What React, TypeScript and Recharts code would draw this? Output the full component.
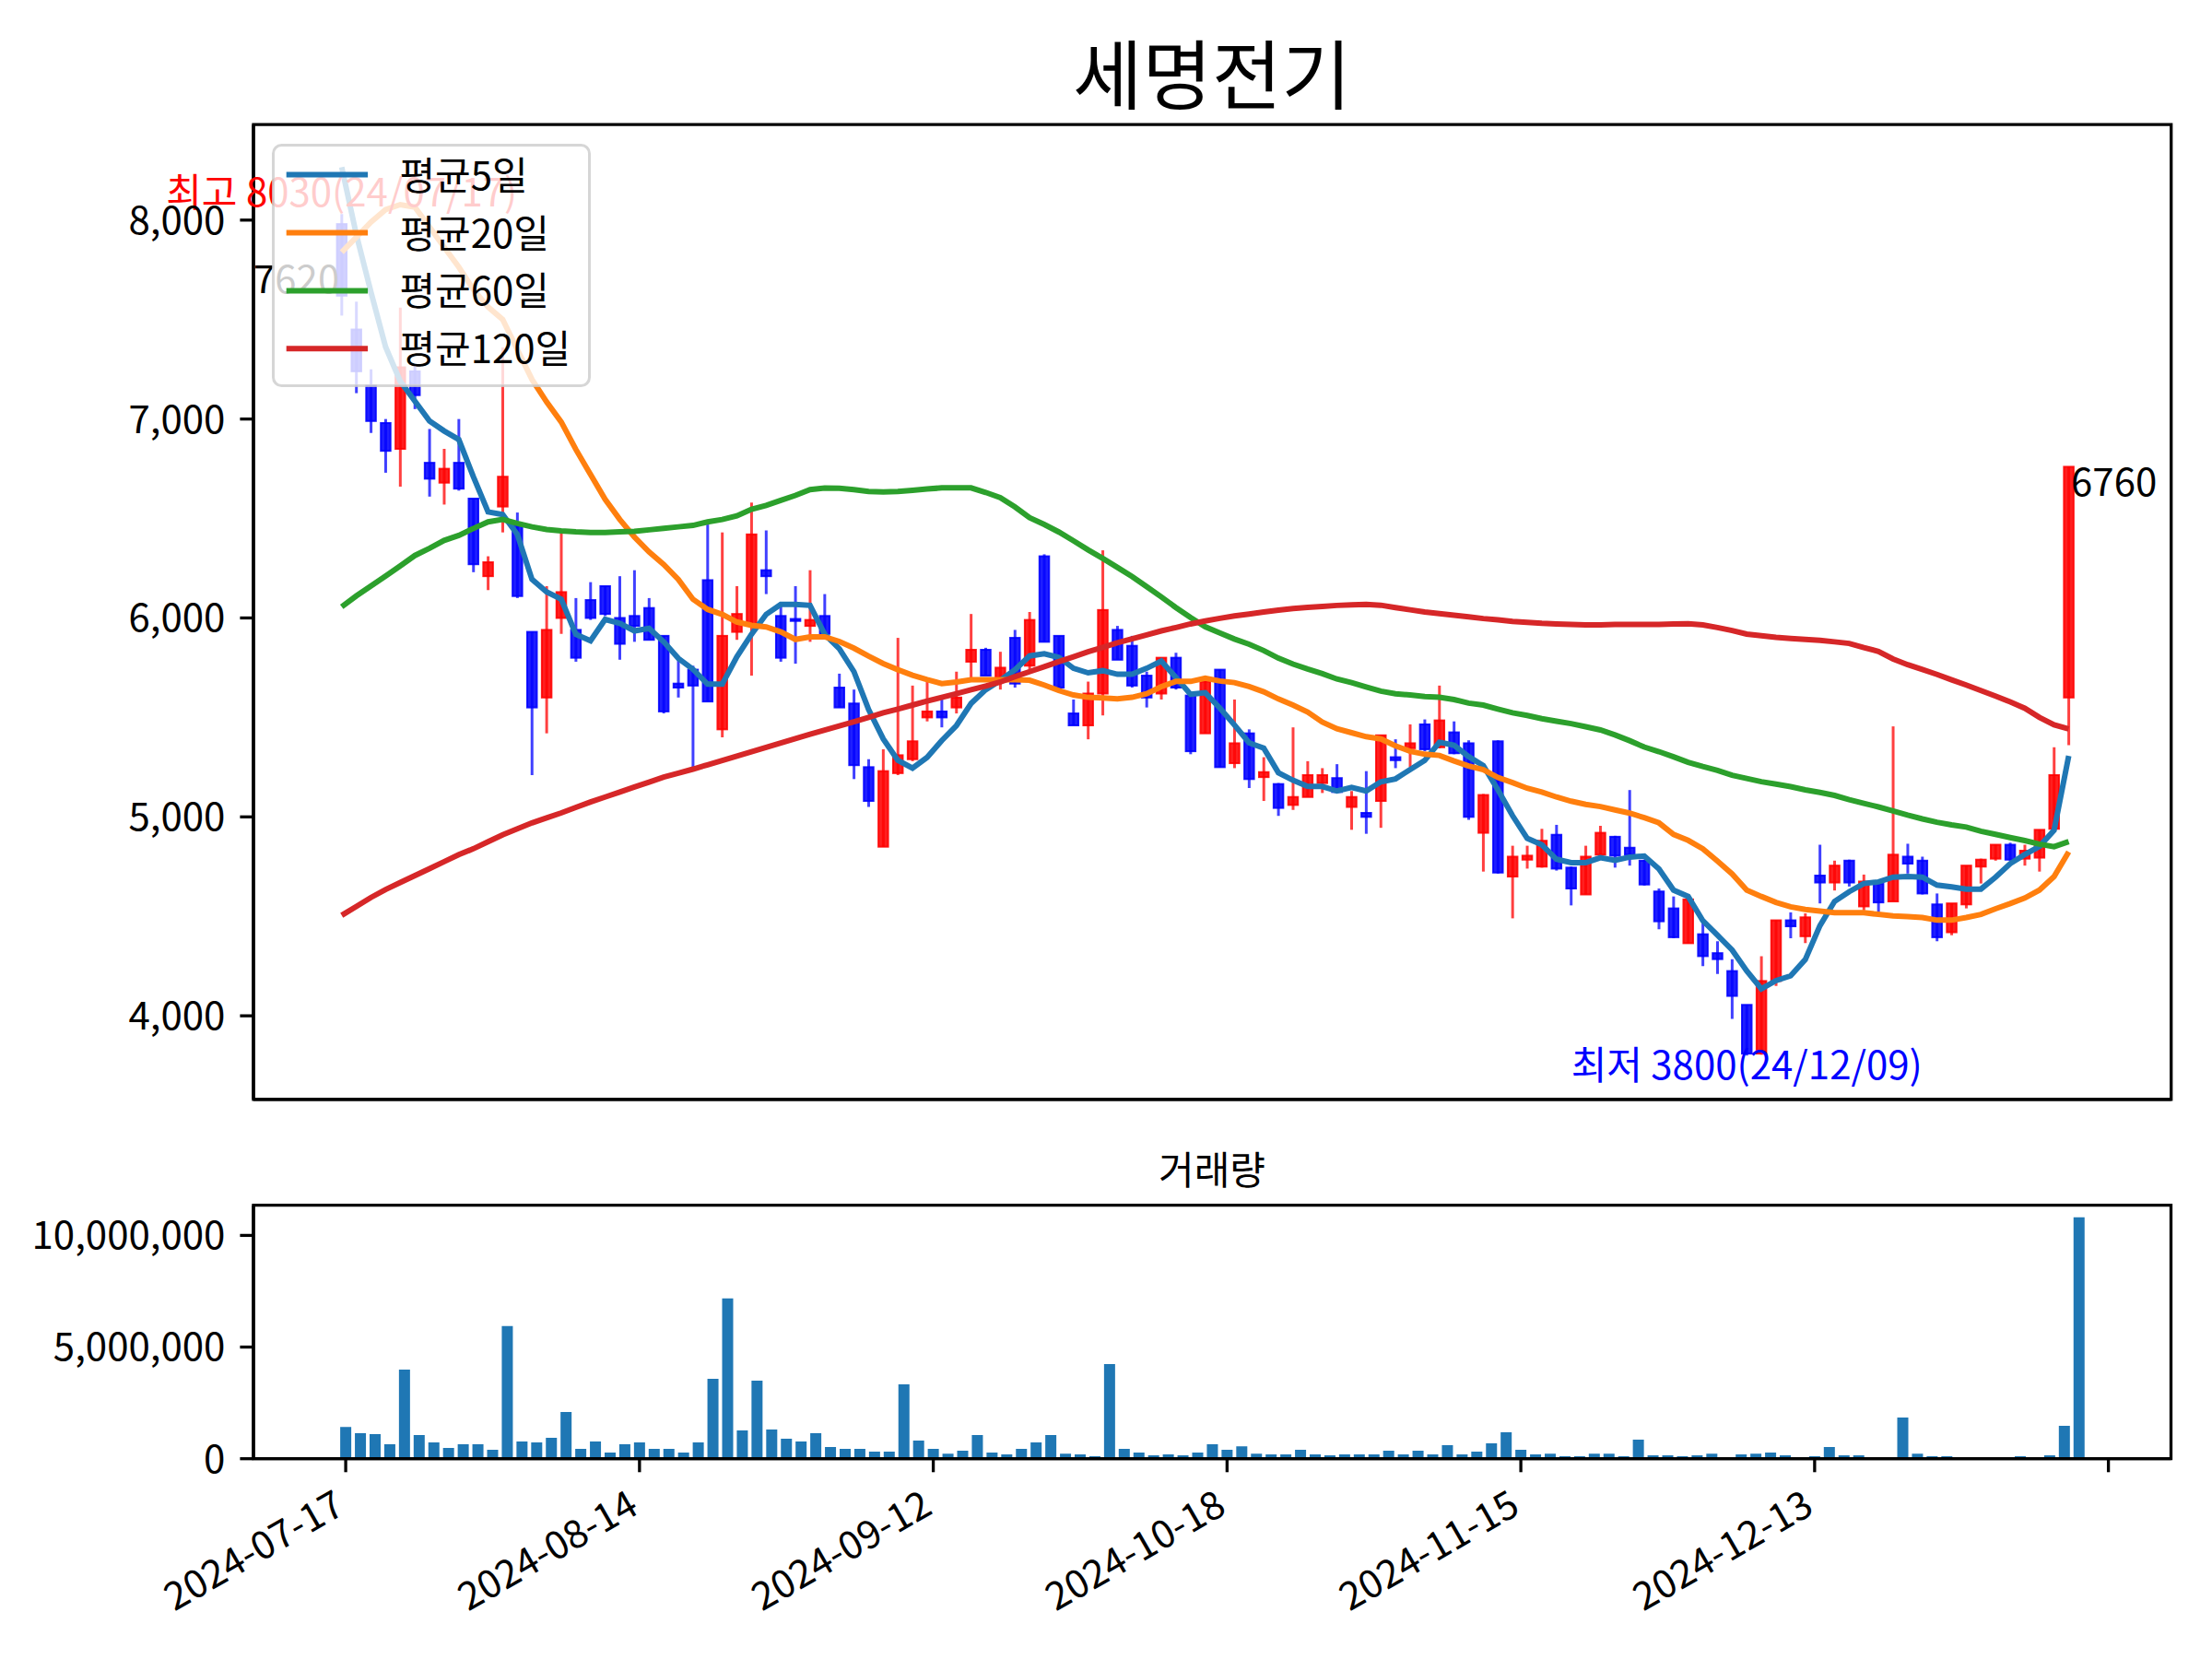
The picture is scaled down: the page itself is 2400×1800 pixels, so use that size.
import { Bar, BarChart, ComposedChart, Legend, Line, ReferenceArea, ReferenceDot, XAxis, YAxis } from "recharts";

const FONT = '"Noto Sans CJK KR", "Noto Sans", sans-serif';

// trading days shown on the chart
const dates = [
  "2024-07-17", "2024-07-18", "2024-07-19", "2024-07-22", "2024-07-23", "2024-07-24", "2024-07-25", "2024-07-26", "2024-07-29", "2024-07-30", "2024-07-31",
  "2024-08-01", "2024-08-02", "2024-08-05", "2024-08-06", "2024-08-07", "2024-08-08", "2024-08-09", "2024-08-12", "2024-08-13", "2024-08-14", "2024-08-16",
  "2024-08-19", "2024-08-20", "2024-08-21", "2024-08-22", "2024-08-23", "2024-08-26", "2024-08-27", "2024-08-28", "2024-08-29", "2024-08-30",
  "2024-09-02", "2024-09-03", "2024-09-04", "2024-09-05", "2024-09-06", "2024-09-09", "2024-09-10", "2024-09-11", "2024-09-12", "2024-09-13",
  "2024-09-19", "2024-09-20", "2024-09-23", "2024-09-24", "2024-09-25", "2024-09-26", "2024-09-27", "2024-09-30",
  "2024-10-02", "2024-10-04", "2024-10-07", "2024-10-08", "2024-10-10", "2024-10-11", "2024-10-14", "2024-10-15", "2024-10-16", "2024-10-17",
  "2024-10-18", "2024-10-21", "2024-10-22", "2024-10-23", "2024-10-24", "2024-10-25", "2024-10-28", "2024-10-29", "2024-10-30", "2024-10-31",
  "2024-11-01", "2024-11-04", "2024-11-05", "2024-11-06", "2024-11-07", "2024-11-08", "2024-11-11", "2024-11-12", "2024-11-13", "2024-11-14",
  "2024-11-15", "2024-11-18", "2024-11-19", "2024-11-20", "2024-11-21", "2024-11-22", "2024-11-25", "2024-11-26", "2024-11-27", "2024-11-28", "2024-11-29",
  "2024-12-02", "2024-12-03", "2024-12-04", "2024-12-05", "2024-12-06", "2024-12-09", "2024-12-10", "2024-12-11", "2024-12-12", "2024-12-13",
  "2024-12-16", "2024-12-17", "2024-12-18", "2024-12-19", "2024-12-20", "2024-12-23", "2024-12-24", "2024-12-26", "2024-12-27", "2024-12-30",
  "2025-01-02", "2025-01-03", "2025-01-06", "2025-01-07", "2025-01-08", "2025-01-09", "2025-01-10", "2025-01-13",
];

const open = [
  7980, 7450, 7170, 6980, 6850, 7240, 6780, 6680, 6780, 6600,
  6210, 6560, 6470, 5930, 5600, 6000, 5940, 6090, 6160, 6000,
  6010, 6050, 5910, 5670, 5740, 6190, 5440, 5930, 5970, 6240,
  6010, 5995, 5960, 6010, 5650, 5570, 5250, 4850, 5220, 5290,
  5500, 5530, 5550, 5780, 5840, 5700, 5900, 5760, 6310, 5910,
  5520, 5460, 5620, 5940, 5860, 5710, 5620, 5800, 5610, 5420,
  5740, 5270, 5420, 5200, 5165, 5060, 5100, 5170, 5195, 5050,
  5020, 5080, 5300, 5345, 5465, 5350, 5425, 5370, 4920, 5380,
  4700, 4785, 4750, 4910, 4745, 4610, 4810, 4900, 4845, 4780,
  4625, 4540, 4365, 4410, 4315, 4225, 4055, 3810, 4175, 4480,
  4400, 4705, 4670, 4780, 4550, 4665, 4575, 4800, 4780, 4560,
  4420, 4560, 4750, 4790, 4860, 4790, 4795, 4940, 5600,
];
const high = [
  8030, 7590, 7250, 7000, 7560, 7270, 6950, 6850, 7000, 6600,
  6310, 7360, 6530, 5930, 6160, 6430, 6100, 6180, 6160, 6210,
  6240, 6100, 5910, 5800, 5760, 6470, 6430, 6160, 6580, 6440,
  6080, 6160, 6240, 6120, 5720, 5640, 5290, 5340, 5900, 5660,
  5680, 5600, 5730, 6020, 5850, 5830, 5940, 6030, 6320, 5910,
  5590, 5680, 6340, 5960, 5910, 5730, 5800, 5825, 5610, 5700,
  5740, 5590, 5440, 5300, 5170, 5450, 5280, 5245, 5265, 5130,
  5230, 5410, 5390, 5465, 5490, 5660, 5480, 5385, 5115, 5385,
  4855, 4855, 4940, 4960, 4750, 4855, 4955, 4905, 5135, 4785,
  4640, 4600, 4590, 4470, 4375, 4285, 4055, 4300, 4480, 4520,
  4515, 4860, 4780, 4785, 4710, 4670, 5455, 4865, 4800, 4615,
  4565, 4755, 4790, 4860, 4870, 4860, 4935, 5350, 6760,
];
const low = [
  7520, 7130, 6930, 6730, 6660, 7050, 6610, 6570, 6640, 6230,
  6140, 6430, 6100, 5210, 5420, 5920, 5780, 5990, 6010, 5790,
  5880, 5890, 5520, 5600, 5230, 5580, 5400, 5890, 5710, 6120,
  5780, 5770, 5880, 5920, 5550, 5190, 5050, 4850, 5210, 5280,
  5480, 5450, 5520, 5690, 5710, 5640, 5650, 5740, 5880, 5650,
  5460, 5390, 5510, 5790, 5650, 5550, 5590, 5640, 5315, 5420,
  5250, 5245, 5145, 5080, 5005, 5035, 5100, 5120, 5120, 4935,
  4915, 4945, 5245, 5250, 5330, 5345, 5315, 4985, 4725, 4715,
  4490, 4740, 4745, 4730, 4555, 4610, 4810, 4745, 4755, 4655,
  4435, 4390, 4365, 4250, 4210, 3985, 3800, 3805, 4150, 4390,
  4365, 4565, 4630, 4650, 4530, 4520, 4575, 4715, 4610, 4375,
  4405, 4540, 4665, 4780, 4780, 4755, 4725, 4935, 5360,
];
const close = [
  7620, 7240, 6990, 6840, 7260, 7120, 6700, 6750, 6650, 6270,
  6280, 6710, 6110, 5550, 5940, 6130, 5800, 6000, 6020, 5870,
  5960, 5890, 5530, 5650, 5660, 5580, 5910, 6020, 6420, 6210,
  5800, 5985, 5990, 5920, 5550, 5260, 5080, 5230, 5310, 5380,
  5530, 5500, 5600, 5840, 5710, 5750, 5670, 5990, 5880, 5650,
  5460, 5620, 6040, 5790, 5660, 5600, 5800, 5650, 5330, 5680,
  5250, 5370, 5190, 5225, 5045, 5100, 5210, 5210, 5125, 5100,
  5000, 5410, 5285, 5370, 5340, 5485, 5320, 5000, 5110, 4720,
  4800, 4805, 4880, 4740, 4640, 4800, 4920, 4805, 4810, 4660,
  4475, 4395, 4585, 4300, 4285, 4100, 3810, 4175, 4480, 4450,
  4495, 4670, 4755, 4670, 4675, 4570, 4810, 4765, 4615, 4395,
  4565, 4755, 4785, 4860, 4785, 4830, 4935, 5210, 6760,
];
const volume = [
  1420000, 1140000, 1100000, 650000, 3990000, 1060000, 730000, 480000, 650000, 650000,
  400000, 5940000, 770000, 730000, 940000, 2090000, 440000, 770000, 280000, 650000,
  730000, 440000, 440000, 280000, 730000, 3580000, 7180000, 1270000, 3500000, 1310000,
  900000, 770000, 1140000, 520000, 440000, 440000, 320000, 320000, 3330000, 810000,
  440000, 230000, 360000, 1060000, 280000, 190000, 440000, 730000, 1060000, 230000,
  190000, 110000, 4240000, 440000, 280000, 150000, 190000, 150000, 280000, 650000,
  400000, 560000, 230000, 190000, 190000, 400000, 190000, 150000, 190000, 190000,
  190000, 360000, 190000, 360000, 190000, 610000, 190000, 320000, 690000, 1180000,
  400000, 190000, 230000, 110000, 110000, 230000, 230000, 110000, 850000, 150000,
  150000, 110000, 150000, 230000, 70000, 190000, 230000, 280000, 150000, 70000,
  110000, 520000, 150000, 150000, 70000, 70000, 1850000, 230000, 110000, 110000,
  70000, 70000, 70000, 70000, 110000, 70000, 150000, 1470000, 10810000,
];

// moving averages
const ma5 = [
  8266, 7927, 7638, 7362, 7190, 7090, 6990, 6940, 6897, 6709,
  6533, 6520, 6420, 6194, 6131, 6094, 5918, 5885, 5993, 5973,
  5935, 5948, 5880, 5797, 5742, 5667, 5667, 5805, 5918, 6018,
  6068, 6068, 6063, 5918, 5845, 5730, 5540, 5392, 5284, 5245,
  5299, 5384, 5459, 5570, 5639, 5686, 5740, 5809, 5820, 5802,
  5747, 5724, 5735, 5717, 5717, 5747, 5783, 5701, 5616, 5624,
  5547, 5462, 5372, 5346, 5222, 5184, 5153, 5153, 5130, 5148,
  5130, 5176, 5191, 5238, 5284, 5375, 5360, 5303, 5258, 5136,
  5006, 4892, 4860, 4787, 4770, 4770, 4795, 4782, 4798, 4803,
  4738, 4632, 4600, 4478, 4405, 4331, 4226, 4136, 4177, 4201,
  4283, 4453, 4575, 4624, 4665, 4673, 4697, 4700, 4697, 4657,
  4648, 4637, 4637, 4697, 4765, 4811, 4852, 4933, 5307,
];
const ma20 = [
  7839, 7914, 7990, 8053, 8078, 8065, 7965, 7864, 7764, 7651,
  7563, 7500, 7349, 7199, 7086, 6985, 6847, 6721, 6596, 6495,
  6407, 6332, 6269, 6194, 6094, 6043, 6018, 5980, 5963, 5955,
  5930, 5892, 5905, 5905, 5882, 5848, 5808, 5771, 5740, 5712,
  5690, 5670, 5678, 5689, 5690, 5690, 5689, 5687, 5663, 5635,
  5613, 5601, 5598, 5593, 5601, 5619, 5655, 5681, 5681, 5697,
  5683, 5675, 5655, 5629, 5593, 5562, 5527, 5477, 5443, 5423,
  5403, 5392, 5357, 5330, 5315, 5309, 5281, 5256, 5237, 5198,
  5172, 5144, 5125, 5100, 5079, 5063, 5052, 5035, 5019, 4996,
  4970, 4912, 4882, 4840, 4778, 4713, 4632, 4600, 4570, 4548,
  4535, 4527, 4518, 4518, 4518, 4510, 4502, 4499, 4494, 4481,
  4481, 4494, 4510, 4538, 4564, 4592, 4632, 4700, 4824,
];
const ma60 = [
  6056, 6111, 6161, 6211, 6262, 6314, 6350, 6390, 6415, 6450,
  6483, 6495, 6475, 6458, 6445, 6438, 6433, 6430, 6430, 6433,
  6435, 6443, 6450, 6458, 6465, 6483, 6495, 6513, 6546, 6566,
  6591, 6616, 6645, 6653, 6652, 6645, 6636, 6633, 6636, 6642,
  6648, 6654, 6654, 6654, 6631, 6605, 6558, 6504, 6470, 6432,
  6388, 6342, 6299, 6254, 6208, 6157, 6106, 6052, 6002, 5956,
  5925, 5894, 5868, 5836, 5798, 5768, 5743, 5720, 5693, 5675,
  5653, 5632, 5619, 5613, 5605, 5601, 5590, 5572, 5562, 5542,
  5523, 5510, 5494, 5481, 5469, 5453, 5437, 5412, 5383, 5351,
  5328, 5302, 5274, 5253, 5234, 5209, 5193, 5177, 5165, 5152,
  5136, 5123, 5108, 5087, 5068, 5050, 5030, 5009, 4990, 4973,
  4960, 4949, 4928, 4912, 4896, 4881, 4863, 4850, 4876,
];
const ma120 = [
  4505, 4550, 4595, 4635, 4670, 4705, 4740, 4775, 4810, 4840,
  4875, 4910, 4940, 4970, 4995, 5020, 5048, 5075, 5100, 5125,
  5150, 5175, 5200, 5220, 5240, 5262, 5284, 5306, 5328, 5350,
  5372, 5394, 5415, 5436, 5457, 5478, 5500, 5523, 5542, 5562,
  5582, 5601, 5619, 5639, 5658, 5678, 5705, 5730, 5755, 5780,
  5805, 5830, 5852, 5875, 5895, 5915, 5935, 5952, 5970, 5985,
  5998, 6010, 6020, 6030, 6039, 6047, 6053, 6058, 6063, 6066,
  6068, 6064, 6052, 6041, 6030, 6022, 6014, 6006, 5997, 5991,
  5983, 5978, 5973, 5970, 5967, 5965, 5965, 5967, 5967, 5968,
  5968, 5970, 5971, 5965, 5952, 5937, 5919, 5911, 5903, 5897,
  5892, 5887, 5880, 5872, 5851, 5832, 5794, 5765, 5741, 5716,
  5689, 5663, 5635, 5607, 5578, 5546, 5500, 5463, 5442,
];

const priceTicks = [4000, 5000, 6000, 7000, 8000];
const volumeTicks = [0, 5000000, 10000000];
const dateTicks = [0, 20, 40, 60, 80, 100, 120];

const series = [
  { key: "ma5", name: "평균5일", color: "#1f77b4" },
  { key: "ma20", name: "평균20일", color: "#ff7f0e" },
  { key: "ma60", name: "평균60일", color: "#2ca02c" },
  { key: "ma120", name: "평균120일", color: "#d62728" },
];

const rows = dates.map((date, i) => ({
  i,
  date,
  open: open[i],
  high: high[i],
  low: low[i],
  close: close[i],
  volume: volume[i],
  ma5: ma5[i],
  ma20: ma20[i],
  ma60: ma60[i],
  ma120: ma120[i],
}));

const hiIdx = high.indexOf(Math.max(...high));
const loIdx = low.indexOf(Math.min(...low));
const last = close.length - 1;
const shortDate = (d: string) => d.slice(2).replace(/-/g, "/");
const fmt = (v: number) => v.toLocaleString("en-US");

const SPINE = 3.3;
const TICK = 14.6;
const mainX = [-6.03, 125];
const priceY = [3580, 8480];
const volX = [-6.28, 124.26];
const volY = [0, 11350000];

const axisLine = { stroke: "#000", strokeWidth: SPINE };
const tickStyle = { fontSize: 42, fill: "#000", fontFamily: FONT };

function Candle(props: any) {
  const { x, y, width, height, payload } = props;
  if (x == null || y == null || !payload) return null;
  const { open: o, close: c, high: h, low: l } = payload;
  const color = c >= o ? "#ff0000" : "#0000ff";
  const cx = x + width / 2;
  const py = (v: number) => y + ((h - v) / (h - l)) * height;
  const top = py(Math.max(o, c));
  const bottom = py(Math.min(o, c));
  return (
    <g>
      <line x1={cx} x2={cx} y1={y} y2={y + height} stroke={color} strokeOpacity={0.75} strokeWidth={3} />
      <rect
        x={cx - 5.25}
        y={top}
        width={10.5}
        height={Math.max(bottom - top, 1)}
        fill={color}
        fillOpacity={0.88}
        stroke={color}
        strokeOpacity={0.88}
        strokeWidth={2}
      />
    </g>
  );
}

function DateTick({ x, y, payload }: any) {
  const label = dates[payload.value] ?? "";
  return (
    <text x={x + 1} y={y} transform={`rotate(-30 ${x + 1} ${y})`} textAnchor="end" {...tickStyle}>
      {label}
    </text>
  );
}

function LegendBox() {
  return (
    <svg width={346} height={264} style={{ display: "block" }}>
      <rect x={1.5} y={1.5} width={343} height={261} rx={9} fill="#fff" fillOpacity={0.8} stroke="#cccccc" strokeOpacity={0.8} strokeWidth={3} />
      {series.map((s, k) => {
        const y = 33.6 + k * 62.9;
        return (
          <g key={s.key}>
            <line x1={15.7} x2={104.1} y1={y} y2={y} stroke={s.color} strokeWidth={6} />
            <text x={138.4} y={y + 16} fontSize={42} fontFamily={FONT} fill="#000">
              {s.name}
            </text>
          </g>
        );
      })}
    </svg>
  );
}

const note = (text: string, color: string, anchor: "start" | "middle" | "end", dx: number, dy: number) => ({
  content: (p: any) => {
    const vb = p.viewBox || {};
    const cx = (vb.x ?? 0) + (vb.width ?? 0) / 2;
    const cy = (vb.y ?? 0) + (vb.height ?? 0) / 2;
    return (
      <text x={cx + dx} y={cy + dy} textAnchor={anchor} fill={color} fontSize={42} fontFamily={FONT}>
        {text}
      </text>
    );
  },
});

export default function App() {
  return (
    <div style={{ position: "absolute", left: 0, top: 0, width: 2400, height: 1800, background: "#fff", fontFamily: FONT }}>
      <svg width={2400} height={1800} style={{ position: "absolute", left: 0, top: 0 }}>
        <text x={1315} y={112} textAnchor="middle" fontSize={82} fontFamily={FONT} fill="#000">
          세명전기
        </text>
        <text x={1315} y={1285} textAnchor="middle" fontSize={42} fontFamily={FONT} fill="#000">
          거래량
        </text>
      </svg>

      <div style={{ position: "absolute", left: 0, top: 0 }}>
        <ComposedChart width={2400} height={1260} data={rows} margin={{ top: 135.2, right: 44.3, bottom: 0, left: 0 }}>
          <XAxis
            dataKey="i"
            type="number"
            domain={mainX}
            allowDataOverflow
            ticks={dateTicks}
            tick={false}
            tickSize={TICK}
            height={67.2}
            axisLine={axisLine}
            tickLine={axisLine}
          />
          <YAxis
            type="number"
            domain={priceY}
            allowDataOverflow
            ticks={priceTicks}
            tickFormatter={fmt}
            width={275}
            tickSize={TICK}
            tickMargin={16}
            tick={tickStyle}
            axisLine={axisLine}
            tickLine={axisLine}
          />
          <Bar dataKey={(d: any) => [d.low, d.high]} shape={Candle} barSize={12} isAnimationActive={false} />
          {series.map((s) => (
            <Line
              key={s.key}
              type="linear"
              dataKey={s.key}
              name={s.name}
              stroke={s.color}
              strokeWidth={6}
              dot={false}
              activeDot={false}
              isAnimationActive={false}
            />
          ))}
          <ReferenceDot
            x={hiIdx}
            y={high[hiIdx]}
            r={1}
            fill="none"
            stroke="none"
            ifOverflow="visible"
            label={note(`최고 ${high[hiIdx]}(${shortDate(dates[hiIdx])})`, "#ff0000", "middle", 0, -8.5)}
          />
          <ReferenceDot
            x={loIdx}
            y={low[loIdx]}
            r={1}
            fill="none"
            stroke="none"
            ifOverflow="visible"
            label={note(`최저 ${low[loIdx]}(${shortDate(dates[loIdx])})`, "#0000ff", "middle", 0, 26)}
          />
          <ReferenceDot
            x={0}
            y={close[0]}
            r={1}
            fill="none"
            stroke="none"
            ifOverflow="visible"
            label={note(`${close[0]}`, "#000", "end", -2.5, -3)}
          />
          <ReferenceDot
            x={last}
            y={close[last]}
            r={1}
            fill="none"
            stroke="none"
            ifOverflow="visible"
            label={note(`${close[last]}`, "#000", "start", 2.5, 32)}
          />
          <ReferenceArea
            x1={mainX[0]}
            x2={mainX[1]}
            y1={priceY[0]}
            y2={priceY[1]}
            fill="none"
            stroke="#000"
            strokeWidth={SPINE}
            ifOverflow="visible"
          />
          <Legend
            layout="vertical"
            align="center"
            verticalAlign="middle"
            content={() => <LegendBox />}
            wrapperStyle={{ left: 294.6, top: 156, width: 346, height: 264, margin: 0, padding: 0 }}
          />
        </ComposedChart>
      </div>

      <div style={{ position: "absolute", left: 0, top: 1250 }}>
        <BarChart width={2400} height={550} data={rows} margin={{ top: 57.7, right: 44.5, bottom: 0, left: 0 }}>
          <XAxis
            dataKey="i"
            type="number"
            domain={volX}
            allowDataOverflow
            ticks={dateTicks}
            tick={<DateTick />}
            tickSize={TICK}
            tickMargin={43.7}
            height={217.3}
            interval={0}
            axisLine={axisLine}
            tickLine={axisLine}
          />
          <YAxis
            type="number"
            domain={volY}
            allowDataOverflow
            ticks={volumeTicks}
            tickFormatter={fmt}
            width={275}
            tickSize={TICK}
            tickMargin={16}
            tick={tickStyle}
            axisLine={axisLine}
            tickLine={axisLine}
          />
          <Bar dataKey="volume" fill="#1f77b4" barSize={12} isAnimationActive={false} />
          <ReferenceArea
            x1={volX[0]}
            x2={volX[1]}
            y1={volY[0]}
            y2={volY[1]}
            fill="none"
            stroke="#000"
            strokeWidth={SPINE}
            ifOverflow="visible"
          />
        </BarChart>
      </div>
    </div>
  );
}
